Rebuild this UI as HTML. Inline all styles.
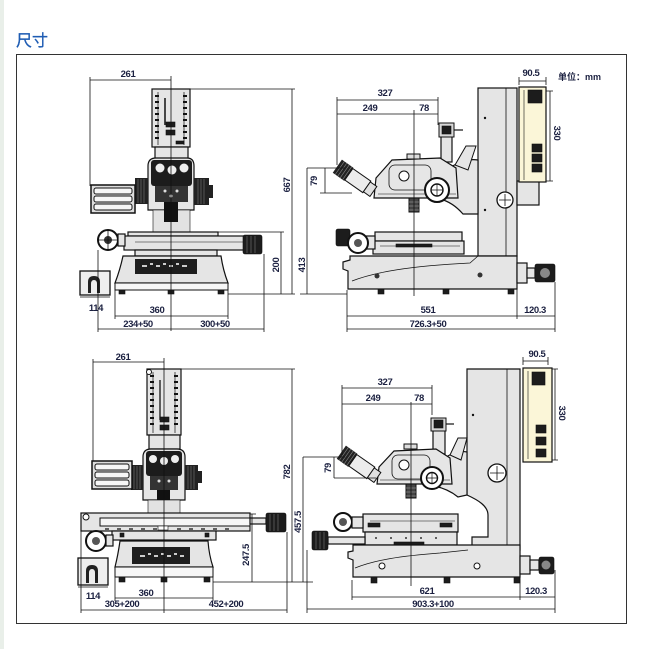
<!DOCTYPE html>
<html><head><meta charset="utf-8"><style>
html,body{margin:0;padding:0;background:#fff;}
body{width:650px;height:649px;overflow:hidden;position:relative;}
svg{position:absolute;left:0;top:0;}
.d{stroke:#111;stroke-width:0.8;fill:none}
.p{fill:#e5e5e5;stroke:#111;stroke-width:1.2}
.w{fill:#f6f6f6;stroke:#111;stroke-width:1}
.k{fill:#1c1c1c;stroke:#111;stroke-width:0.6}
.t{font-family:"Liberation Sans Narrow","Liberation Sans",sans-serif;font-size:9.5px;font-weight:bold;letter-spacing:-0.4px;fill:#1b2040;text-anchor:middle}
</style></head><body>
<svg width="650" height="649" viewBox="0 0 650 649" xmlns="http://www.w3.org/2000/svg">
<rect x="0" y="0" width="4" height="649" fill="#e9efe9"/>
<text x="16" y="46" font-family="'Liberation Sans','Noto Sans CJK SC',sans-serif" font-size="16" fill="#1e5cb3" stroke="#1e5cb3" stroke-width="0.3">尺寸</text>
<rect x="16.5" y="54.5" width="610" height="569" fill="none" stroke="#333" stroke-width="1"/>

<!-- ================= TOP LEFT ================= -->
<g>
<rect class="p" x="152" y="89" width="38" height="58"/>
<line x1="158" y1="92" x2="158" y2="145" stroke="#111" stroke-width="0.7"/>
<line x1="184" y1="92" x2="184" y2="145" stroke="#111" stroke-width="0.7"/>
<path d="M155,96h4M155,102h4M155,108h4M155,114h4M155,120h4M155,126h4M155,132h4M155,138h4M183,96h4M183,102h4M183,108h4M183,114h4M183,120h4M183,126h4M183,132h4M183,138h4" stroke="#111" stroke-width="2"/>
<line x1="165" y1="98" x2="165" y2="125" stroke="#111" stroke-width="1.5"/>
<rect class="k" x="166" y="122" width="9" height="5"/><rect class="k" x="166" y="130" width="9" height="5"/><rect class="k" x="176" y="141" width="8" height="3"/>
<rect class="p" x="155" y="147" width="33" height="13"/>
<path d="M148,210 V166 Q148,158 156,158 H187 Q194,158 194,166 V210 Z" fill="#e6e6e6" stroke="#111" stroke-width="1.2"/>
<rect x="151" y="160" width="41" height="26" rx="3" fill="#1c1c1c"/>
<circle cx="160" cy="168" r="4.5" fill="#eee"/><circle cx="172" cy="170" r="4.5" fill="#eee"/><circle cx="184" cy="168" r="4.5" fill="#eee"/>
<rect x="155" y="186" width="33" height="16" fill="#333"/>
<circle cx="165" cy="191" r="1.5" fill="#ddd"/><circle cx="177" cy="191" r="1.5" fill="#ddd"/><circle cx="171" cy="196" r="1.5" fill="#ddd"/>
<rect x="135" y="178" width="13" height="26" fill="#222"/>
<path d="M138,179v24M141,179v24M144,179v24" stroke="#777" stroke-width="0.6"/>
<rect x="194" y="178" width="15" height="27" fill="#222"/>
<path d="M198,179v25M201,179v25M204,179v25" stroke="#777" stroke-width="0.6"/>
<rect x="209" y="185" width="4" height="13" fill="#222"/>
<rect x="91" y="185" width="44" height="28" fill="#ddd" stroke="#111" stroke-width="1.5"/>
<rect x="94" y="188" width="38" height="6" rx="2" class="w"/><rect x="94" y="196" width="38" height="6" rx="2" class="w"/><rect x="94" y="204" width="38" height="6" rx="2" class="w"/>
<rect x="153" y="210" width="37" height="22" fill="#e2e2e2" stroke="#111" stroke-width="0.6"/>
<rect x="164" y="202" width="14" height="20" fill="#111"/>
<rect class="p" x="128" y="232" width="90" height="4"/>
<rect class="p" x="124" y="236" width="121" height="14"/>
<line x1="135" y1="242" x2="243" y2="242" stroke="#111" stroke-width="0.6"/>
<rect class="k" x="243" y="235" width="19" height="19" rx="2"/>
<path d="M247,236v17M251,236v17M255,236v17" stroke="#777" stroke-width="0.6"/>
<rect class="p" x="135" y="250" width="82" height="6"/>
<circle cx="108" cy="240" r="10" fill="#fff" stroke="#111" stroke-width="2"/>
<circle cx="108" cy="240" r="4" fill="#333"/>
<path d="M98,240h20M108,230v20" stroke="#111" stroke-width="0.8"/>
<rect class="p" x="118" y="234" width="7" height="12"/>
<path d="M123,256 H221 Q223,270 228,283 H115 Q120,270 123,256 Z" fill="#e5e5e5" stroke="#111" stroke-width="1.2"/>
<rect x="135" y="259" width="62" height="15" fill="#1e1e1e"/>
<path d="M142,266h5M150,264h3M156,266h4M163,264h3M169,266h4M176,264h3M182,266h5" stroke="#ccc" stroke-width="2"/>
<rect class="w" x="115" y="283" width="113" height="7"/>
<rect class="k" x="119" y="290" width="6" height="4"/><rect class="k" x="168" y="290" width="6" height="4"/><rect class="k" x="218" y="290" width="6" height="4"/>
<rect x="80" y="271" width="30" height="24" fill="#eee" stroke="#111" stroke-width="1.3"/>
<path d="M88,293 V282 Q88,276 94,276 Q100,276 100,282 V293 Z" fill="#222"/>
<path d="M91,293 V284 Q91,280 94,280 Q97,280 97,284 V293 Z" fill="#eee"/>
<line x1="80" y1="297" x2="110" y2="297" stroke="#111" stroke-width="0.8"/>
<path class="d" d="M90,80 H171 M90,77 V186 M171,76 V331 M190,89 H295 M292,89 V294 M218,232 H284 M281,232 V294 M228,294 H295 M115,290 V319 M228,290 V319 M115,316 H228 M98,250 V332 M264,254 V332 M98,329 H264"/>
<text class="t" x="128" y="77">261</text>
<text class="t" transform="translate(290,185) rotate(-90)">667</text>
<text class="t" transform="translate(279,265) rotate(-90)">200</text>
<text class="t" x="96" y="311">114</text>
<text class="t" x="157" y="313">360</text>
<text class="t" x="138" y="327">234+50</text>
<text class="t" x="215" y="327">300+50</text>
</g>

<!-- ================= TOP RIGHT ================= -->
<g>
<rect class="p" x="478" y="88" width="39" height="168"/>
<line x1="506" y1="88" x2="506" y2="256" stroke="#111" stroke-width="0.8"/>
<circle cx="485" cy="118" r="1.2" fill="#111"/><circle cx="485" cy="210" r="1.2" fill="#111"/>
<circle cx="505" cy="200" r="8" fill="#fff" stroke="#111" stroke-width="1.3"/>
<path d="M499,200h12M505,194v12" stroke="#111" stroke-width="0.8"/>
<rect class="p" x="517" y="181" width="22" height="24"/>
<rect x="519" y="87" width="27" height="95" fill="#fbf6d8" stroke="#111" stroke-width="1.2"/>
<line x1="524" y1="90" x2="524" y2="180" stroke="#111" stroke-width="0.6"/>
<rect class="k" x="528" y="90" width="14" height="13"/>
<rect class="k" x="532" y="144" width="10" height="8"/><rect class="k" x="532" y="154" width="10" height="8"/><rect class="k" x="532" y="164" width="10" height="8"/>
<path d="M440,178 C450,164 466,158 478,160 L478,214 L463,214 C456,206 448,201 440,199 Z" fill="#e6e6e6" stroke="#111" stroke-width="1.2"/>
<path d="M455,165 L466,146 L476,146 L468,170 Z" fill="#e6e6e6" stroke="#111"/>
<rect class="p" x="441" y="136" width="11" height="26"/>
<rect x="439" y="123" width="15" height="14" fill="#d8d8d8" stroke="#111"/>
<rect class="k" x="442" y="126" width="9" height="8"/>
<line x1="454" y1="130" x2="463" y2="130" stroke="#111" stroke-width="1.2"/>
<path d="M376,178 L392,160 L440,158 L456,168 L458,198 L374,198 Z" fill="#e6e6e6" stroke="#111" stroke-width="1.2"/>
<rect x="389" y="165" width="42" height="25" rx="6" fill="none" stroke="#111" stroke-width="0.8"/>
<circle cx="404" cy="176" r="5" fill="#fff" stroke="#111"/>
<rect x="407" y="154" width="13" height="5" fill="#ddd" stroke="#111"/>
<line x1="378" y1="194" x2="456" y2="194" stroke="#111" stroke-width="0.6"/>
<g transform="translate(357,180) rotate(35)">
<rect x="-24" y="-8" width="14" height="16" fill="#222"/>
<path d="M-21,-8v16M-18,-8v16M-15,-8v16M-12,-8v16" stroke="#888" stroke-width="0.6"/>
<rect x="-10" y="-7" width="22" height="14" fill="#ececec" stroke="#111"/>
<rect x="12" y="-6" width="8" height="12" fill="#e0e0e0" stroke="#111"/>
</g>
<circle cx="437" cy="190" r="12" fill="#fff" stroke="#111" stroke-width="2"/>
<circle cx="437" cy="190" r="6" fill="none" stroke="#111" stroke-width="1.4"/>
<path d="M431,190h12M437,184v12" stroke="#111" stroke-width="0.7"/>
<rect x="409" y="198" width="10" height="14" fill="#444" stroke="#111"/>
<path d="M409,202h10M409,206h10M409,210h10" stroke="#aaa" stroke-width="0.6"/>
<rect class="p" x="375" y="232" width="87" height="9"/>
<rect class="p" x="373" y="241" width="91" height="13"/>
<line x1="380" y1="246" x2="460" y2="246" stroke="#111" stroke-width="0.6"/>
<rect class="k" x="396" y="244" width="36" height="3"/>
<rect class="p" x="366" y="236" width="9" height="13"/>
<rect class="k" x="336" y="229" width="14" height="17" rx="2"/>
<circle cx="358" cy="243" r="10" fill="#fff" stroke="#111" stroke-width="2"/>
<circle cx="358" cy="243" r="4" fill="#555"/>
<path d="M350,256 H517 V289 H348 V271 L343,269 V262 L350,260 Z" fill="#e5e5e5" stroke="#111" stroke-width="1.2"/>
<path d="M352,281 C375,272 410,266 470,263 L478,256" fill="none" stroke="#111" stroke-width="0.7"/>
<circle cx="377" cy="276" r="2.5" fill="#333"/><circle cx="480" cy="275" r="2.5" fill="#333"/>
<rect class="k" x="378" y="289" width="6" height="5"/><rect class="k" x="443" y="289" width="6" height="5"/><rect class="k" x="508" y="289" width="6" height="5"/>
<rect class="p" x="517" y="263" width="10" height="20"/>
<rect class="p" x="527" y="268" width="8" height="10"/>
<rect class="k" x="535" y="264" width="20" height="18" rx="2"/>
<circle cx="545" cy="273" r="5" fill="#888"/>
<path class="d" d="M307,168 V294 M300,294 H347 M307,168 H345 M325,168 V193 M320,193 H352 M337,97 V165 M438,97 V125 M337,100 H438 M337,114 H438 M414,110 V296 M519,77 V85 M546,77 V85 M519,81 H546 M546,91 H553 M546,181 H553 M550,91 V181 M347,290 V332 M517,289 V319 M555,282 V332 M347,316 H555 M347,329 H555"/>
<text class="t" x="385" y="96">327</text>
<text class="t" x="370" y="111">249</text>
<text class="t" x="424" y="111">78</text>
<text class="t" x="531" y="76">90.5</text>
<text x="558" y="80" font-family="'Liberation Sans','Noto Sans CJK SC',sans-serif" font-size="9" font-weight="bold" fill="#1b2040">单位：mm</text>
<text class="t" transform="translate(554,133) rotate(90)">330</text>
<text class="t" transform="translate(317,181) rotate(-90)">79</text>
<text class="t" transform="translate(305,265) rotate(-90)">413</text>
<text class="t" x="428" y="313">551</text>
<text class="t" x="535" y="313">120.3</text>
<text class="t" x="428" y="327">726.3+50</text>
</g>

<!-- ================= BOTTOM LEFT ================= -->
<g>
<rect class="p" x="147" y="369" width="34" height="66"/>
<line x1="153" y1="372" x2="153" y2="433" stroke="#111" stroke-width="0.7"/>
<line x1="175" y1="372" x2="175" y2="433" stroke="#111" stroke-width="0.7"/>
<path d="M150,376h4M150,382h4M150,388h4M150,394h4M150,400h4M150,406h4M150,412h4M150,418h4M150,424h4M174,376h4M174,382h4M174,388h4M174,394h4M174,400h4M174,406h4M174,412h4M174,418h4M174,424h4" stroke="#111" stroke-width="2"/>
<circle cx="149" cy="372" r="2.5" fill="#fff" stroke="#111"/>
<line x1="160" y1="380" x2="160" y2="420" stroke="#111" stroke-width="1.3"/>
<rect class="k" x="160" y="417" width="9" height="5"/><rect class="k" x="160" y="425" width="9" height="5"/><rect class="k" x="169" y="435" width="8" height="3"/>
<rect class="p" x="149" y="435" width="31" height="14"/>
<path d="M143,500 V457 Q143,449 151,449 H177 Q185,449 185,457 V500 Z" fill="#e6e6e6" stroke="#111" stroke-width="1.2"/>
<rect x="146" y="451" width="36" height="25" rx="3" fill="#1c1c1c"/>
<circle cx="153" cy="459" r="4" fill="#eee"/><circle cx="164" cy="461" r="4" fill="#eee"/><circle cx="175" cy="459" r="4" fill="#eee"/>
<rect x="150" y="476" width="28" height="14" fill="#333"/>
<circle cx="159" cy="481" r="1.5" fill="#ddd"/><circle cx="169" cy="481" r="1.5" fill="#ddd"/>
<rect x="157" y="490" width="13" height="18" fill="#111"/>
<rect x="131" y="465" width="12" height="25" fill="#222"/>
<path d="M134,466v23M137,466v23M140,466v23" stroke="#777" stroke-width="0.6"/>
<rect x="185" y="465" width="13" height="25" fill="#222"/>
<path d="M188,466v23M191,466v23M194,466v23" stroke="#777" stroke-width="0.6"/>
<rect x="198" y="471" width="4" height="12" fill="#222"/>
<rect x="92" y="461" width="40" height="28" fill="#ddd" stroke="#111" stroke-width="1.5"/>
<rect x="95" y="464" width="34" height="6" rx="2" class="w"/><rect x="95" y="472" width="34" height="6" rx="2" class="w"/><rect x="95" y="480" width="34" height="6" rx="2" class="w"/>
<rect x="148" y="500" width="32" height="14" fill="#e2e2e2" stroke="#111" stroke-width="0.6"/>
<rect class="p" x="81" y="513" width="169" height="18"/>
<rect class="w" x="100" y="518" width="150" height="8"/>
<path d="M105,529h4M117,529h4M129,529h4M141,529h4M153,529h4M177,529h4M189,529h4M201,529h4M213,529h4M225,529h4" stroke="#111" stroke-width="1.3"/>
<circle cx="86" cy="517" r="3" fill="#fff" stroke="#111"/>
<rect x="158" y="526" width="10" height="4" fill="#fff" stroke="#111" stroke-width="0.6"/>
<rect class="p" x="250" y="518" width="16" height="6"/>
<rect class="k" x="266" y="513" width="20" height="19" rx="2"/>
<path d="M270,514v17M274,514v17M278,514v17" stroke="#777" stroke-width="0.6"/>
<rect class="p" x="112" y="531" width="104" height="9"/>
<rect class="k" x="120" y="533" width="4" height="4"/><rect class="k" x="205" y="533" width="4" height="4"/>
<circle cx="96" cy="541" r="10" fill="#fff" stroke="#111" stroke-width="2"/>
<circle cx="96" cy="541" r="4" fill="#555"/>
<rect class="p" x="106" y="535" width="7" height="11"/>
<path d="M120,541 H208 Q209,555 213,567 H115 Q118,555 120,541 Z" fill="#e5e5e5" stroke="#111" stroke-width="1.2"/>
<rect x="132" y="547" width="58" height="17" fill="#1e1e1e"/>
<path d="M140,556h5M148,554h3M154,556h4M161,554h3M167,556h4M174,554h3M180,556h4" stroke="#ccc" stroke-width="2"/>
<rect class="w" x="115" y="567" width="98" height="10"/>
<rect class="k" x="119" y="577" width="6" height="5"/><rect class="k" x="161" y="577" width="6" height="5"/><rect class="k" x="204" y="577" width="6" height="5"/>
<rect x="78" y="558" width="30" height="27" fill="#eee" stroke="#111" stroke-width="1.3"/>
<path d="M86,583 V571 Q86,565 92,565 Q98,565 98,571 V583 Z" fill="#222"/>
<path d="M89,583 V573 Q89,569 92,569 Q95,569 95,573 V583 Z" fill="#eee"/>
<line x1="78" y1="587" x2="108" y2="587" stroke="#111" stroke-width="0.8"/>
<path class="d" d="M93,362 H164 M93,359 V461 M164,358 V613 M181,369 H295 M292,369 V582 M250,514 H256 M252,514 V582 M213,582 H296 M115,577 V601 M213,577 V601 M115,598 H213 M81,531 V613 M287,532 V613 M81,610 H287"/>
<text class="t" x="123" y="360">261</text>
<text class="t" transform="translate(290,472) rotate(-90)">782</text>
<text class="t" transform="translate(249,555) rotate(-90)">247.5</text>
<text class="t" x="93" y="599">114</text>
<text class="t" x="146" y="596">360</text>
<text class="t" x="122" y="607">305+200</text>
<text class="t" x="226" y="607">452+200</text>
</g>

<!-- ================= BOTTOM RIGHT ================= -->
<g>
<path d="M467,369 H520 V550 H472 V537 H488 V515 C488,506 478,500 467,495 Z" fill="#e5e5e5" stroke="#111" stroke-width="1.2"/>
<line x1="507" y1="369" x2="507" y2="550" stroke="#111" stroke-width="0.8"/>
<circle cx="473" cy="415" r="1.2" fill="#111"/>
<circle cx="497" cy="473" r="9" fill="#fff" stroke="#111" stroke-width="1.3"/>
<path d="M490,473h14M497,466v14" stroke="#111" stroke-width="0.8"/>
<rect x="523" y="368" width="29" height="94" fill="#fbf6d8" stroke="#111" stroke-width="1.2"/>
<line x1="528" y1="371" x2="528" y2="459" stroke="#111" stroke-width="0.6"/>
<rect class="k" x="532" y="372" width="13" height="13"/>
<rect class="k" x="536" y="425" width="10" height="8"/><rect class="k" x="536" y="437" width="10" height="8"/><rect class="k" x="536" y="449" width="10" height="8"/>
<path d="M434,468 C444,455 458,450 467,452 L467,495 L458,497 C452,492 444,488 434,486 Z" fill="#e6e6e6" stroke="#111" stroke-width="1.2"/>
<path d="M450,455 L458,438 L467,438 L461,460 Z" fill="#e6e6e6" stroke="#111"/>
<rect class="p" x="433" y="430" width="12" height="24"/>
<rect x="431" y="418" width="15" height="13" fill="#d8d8d8" stroke="#111"/>
<rect class="k" x="434" y="420" width="9" height="8"/>
<line x1="446" y1="424" x2="454" y2="424" stroke="#111" stroke-width="1.2"/>
<path d="M379,467 L394,451 L436,449 L450,458 L452,484 L377,484 Z" fill="#e6e6e6" stroke="#111" stroke-width="1.2"/>
<rect x="392" y="455" width="38" height="24" rx="6" fill="none" stroke="#111" stroke-width="0.8"/>
<circle cx="404" cy="465" r="5" fill="#fff" stroke="#111"/>
<rect x="404" y="444" width="13" height="5" fill="#ddd" stroke="#111"/>
<line x1="380" y1="480" x2="450" y2="480" stroke="#111" stroke-width="0.6"/>
<g transform="translate(361,466) rotate(35)">
<rect x="-24" y="-8" width="14" height="16" fill="#222"/>
<path d="M-21,-8v16M-18,-8v16M-15,-8v16M-12,-8v16" stroke="#888" stroke-width="0.6"/>
<rect x="-10" y="-7" width="22" height="14" fill="#ececec" stroke="#111"/>
<rect x="12" y="-6" width="8" height="12" fill="#e0e0e0" stroke="#111"/>
</g>
<circle cx="432" cy="478" r="11" fill="#fff" stroke="#111" stroke-width="2"/>
<circle cx="432" cy="478" r="5.5" fill="none" stroke="#111" stroke-width="1.4"/>
<path d="M426,478h12M432,472v12" stroke="#111" stroke-width="0.7"/>
<rect x="406" y="484" width="10" height="14" fill="#444" stroke="#111"/>
<path d="M406,488h10M406,492h10M406,496h10" stroke="#aaa" stroke-width="0.6"/>
<rect class="p" x="363" y="514" width="95" height="18"/>
<line x1="370" y1="521" x2="455" y2="521" stroke="#111" stroke-width="0.6"/>
<rect class="k" x="368" y="523" width="12" height="4"/><rect class="k" x="440" y="523" width="12" height="4"/>
<rect class="p" x="365" y="532" width="92" height="13"/>
<path d="M375,538h2M390,538h2M405,538h2M420,538h2M435,538h2" stroke="#111" stroke-width="1.3"/>
<rect class="k" x="394" y="542" width="30" height="3"/>
<rect class="p" x="328" y="537" width="37" height="7"/>
<rect class="k" x="312" y="531" width="16" height="19" rx="2"/>
<path d="M316,532v17M320,532v17M324,532v17" stroke="#777" stroke-width="0.6"/>
<circle cx="343" cy="522" r="9" fill="#fff" stroke="#111" stroke-width="2"/>
<circle cx="343" cy="522" r="4" fill="#555"/>
<rect class="p" x="352" y="517" width="11" height="11"/>
<path d="M353,545 H520 V577 H353 V560 L348,558 V552 L353,551 Z" fill="#e5e5e5" stroke="#111" stroke-width="1.2"/>
<path d="M355,568 C375,560 400,556 440,553 L468,550" fill="none" stroke="#111" stroke-width="0.7"/>
<circle cx="382" cy="566" r="3" fill="#fff" stroke="#111"/><circle cx="477" cy="566" r="3" fill="#fff" stroke="#111"/>
<rect class="k" x="371" y="577" width="6" height="6"/><rect class="k" x="444" y="577" width="6" height="6"/><rect class="k" x="514" y="577" width="6" height="6"/>
<rect class="p" x="520" y="556" width="10" height="18"/>
<rect class="p" x="530" y="560" width="9" height="10"/>
<rect class="k" x="539" y="557" width="15" height="17" rx="2"/>
<circle cx="546" cy="565" r="4.5" fill="#888"/>
<path class="d" d="M303,457 V582 M296,582 H313 M303,457 H345 M334,457 V478 M334,478 H376 M342,385 V455 M432,385 V415 M342,388 H432 M342,404 H432 M411,402 V586 M523,357 V365 M548,357 V365 M523,361 H548 M552,369 H558 M552,460 H558 M555,369 V460 M352,580 V600 M520,577 V600 M555,570 V613 M307,550 V613 M352,597 H555 M307,609 H555"/>
<text class="t" x="385" y="385">327</text>
<text class="t" x="373" y="401">249</text>
<text class="t" x="419" y="401">78</text>
<text class="t" x="537" y="357">90.5</text>
<text class="t" transform="translate(559,413) rotate(90)">330</text>
<text class="t" transform="translate(331,468) rotate(-90)">79</text>
<text class="t" transform="translate(301,522) rotate(-90)">457.5</text>
<text class="t" x="427" y="594">621</text>
<text class="t" x="536" y="594">120.3</text>
<text class="t" x="433" y="607">903.3+100</text>
</g>
</svg>
</body></html>
